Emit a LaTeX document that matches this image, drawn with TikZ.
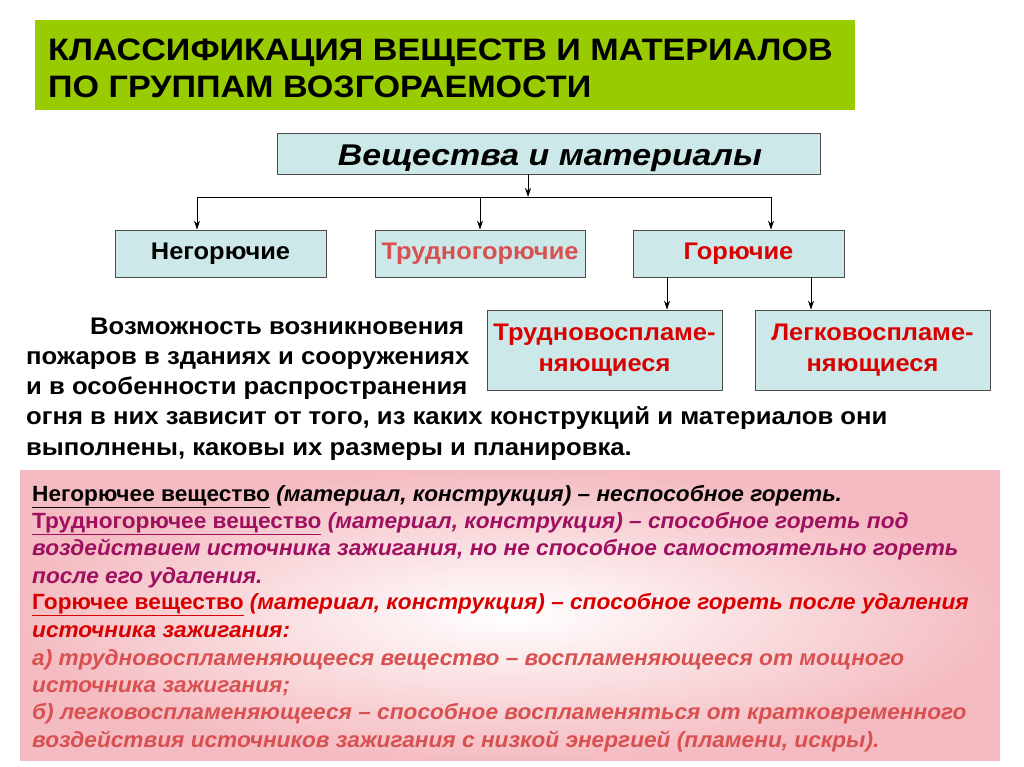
\documentclass[tikz,border=0pt]{standalone}
\usepackage{fontspec}
\setmainfont{Liberation Sans}
\usetikzlibrary{arrows.meta}
\definecolor{cbox}{HTML}{CCE8E8}
\definecolor{cgreen}{HTML}{99CC00}
\definecolor{cpurp}{HTML}{A01060}
\definecolor{cred}{HTML}{D80000}
\definecolor{clred}{HTML}{D85050}
\definecolor{cpink}{HTML}{F4BCC2}
\newcommand{\sxx}[2]{\scalebox{#1}[1]{#2}}
\tikzset{
 bx/.style={draw=black!70,fill=cbox,line width=0.8pt,inner sep=0pt,font=\fontsize{24}{28}\selectfont\bfseries,align=center},
 ar/.style={-{Stealth[length=9pt,width=6pt]},line width=0.8pt},
 ln/.style={anchor=base west,inner sep=0pt,font=\fontsize{24}{28}\selectfont\bfseries},
 bl/.style={anchor=base west,inner sep=0pt,font=\fontsize{22}{26}\selectfont\bfseries\itshape},
}
\begin{document}
\begin{tikzpicture}[x=1pt,y=-1pt]
\useasboundingbox[fill=white] (0,0) rectangle (1024,767);
\node[fill=cgreen,minimum width=820pt,minimum height=90pt,anchor=north west,inner sep=0pt] (title) at (35,20) {};
\node[anchor=base west,inner sep=0pt,font=\fontsize{31}{34}\selectfont\bfseries] (t1) at (48,61) {\sxx{1.1}{КЛАССИФИКАЦИЯ ВЕЩЕСТВ И МАТЕРИАЛОВ}};
\node[anchor=base west,inner sep=0pt,font=\fontsize{31}{34}\selectfont\bfseries] (t2) at (48,98) {\sxx{1.1}{ПО ГРУППАМ ВОЗГОРАЕМОСТИ}};

\node[bx,minimum width=543pt,minimum height=41pt] (top) at (548.5,153.5) {};
\node[anchor=base,inner sep=0pt,font=\fontsize{30}{32}\selectfont\bfseries\itshape] (toptext) at (550,166) {\sxx{1.13}{Вещества и материалы}};
\node[bx,minimum width=211pt,minimum height=47pt] (ng) at (220.5,253.5) {\raisebox{-4pt}{\sxx{1.06}{Негорючие}}};
\node[bx,minimum width=210pt,minimum height=47pt,text=clred] (tg) at (480,253.5) {\raisebox{-4pt}{\sxx{1.06}{Трудногорючие}}};
\node[bx,minimum width=211pt,minimum height=47pt,text=cred] (g) at (738.5,253.5) {\raisebox{-4pt}{\sxx{1.06}{Горючие}}};
\node[bx,minimum width=235pt,minimum height=80pt,text=cred,font=\fontsize{24}{31}\selectfont\bfseries] (tv) at (604.5,350) {\sxx{1.06}{Трудновоспламе-}\\\sxx{1.06}{няющиеся}};
\node[bx,minimum width=235pt,minimum height=80pt,text=cred,font=\fontsize{24}{31}\selectfont\bfseries] (lv) at (872.5,350) {\sxx{1.06}{Легковоспламе-}\\\sxx{1.06}{няющиеся}};

\coordinate (j) at (528,197);
\draw[ar] (top.south -| j) -- (j);
\draw[line width=0.8pt] (197,197) -- (771,197);
\draw[ar] (197,197) -- (ng.north -| 197,0);
\draw[ar] (480,197) -- (tg.north);
\draw[ar] (771,197) -- (g.north -| 771,0);
\draw[ar] (g.south -| 667,0) -- (tv.north -| 667,0);
\draw[ar] (g.south -| 811,0) -- (lv.north -| 811,0);

\node[ln] (p1) at (90,334) {\sxx{1.07}{Возможность возникновения}};
\node[ln] (p2) at (26,364) {\sxx{1.07}{пожаров в зданиях и сооружениях}};
\node[ln] (p3) at (26,394) {\sxx{1.07}{и в особенности распространения}};
\node[ln] (p4) at (26,424) {\sxx{1.07}{огня в них зависит от того, из каких конструкций и материалов они}};
\node[ln] (p5) at (26,455) {\sxx{1.07}{выполнены, каковы их размеры и планировка.}};

\shade[inner color=white,outer color=cpink] (20,470) rectangle (1000,760);
\node[bl] (b1) at (32,501) {\sxx{1.03}{\underline{\upshape Негорючее вещество} (материал, конструкция) – неспособное гореть.}};
\node[bl,text=cpurp] (b2) at (32,528) {\sxx{1.03}{\underline{\upshape Трудногорючее вещество} (материал, конструкция) – способное гореть под}};
\node[bl,text=cpurp] (b3) at (32,555) {\sxx{1.03}{воздействием источника зажигания, но не способное самостоятельно гореть}};
\node[bl,text=cpurp] (b4) at (32,583) {\sxx{1.03}{после его удаления.}};
\node[bl,text=cred] (b5) at (32,609) {\sxx{1.03}{\underline{\upshape Горючее вещество} (материал, конструкция) – способное гореть после удаления}};
\node[bl,text=cred] (b6) at (32,637) {\sxx{1.03}{источника зажигания:}};
\node[bl,text=clred] (b7) at (32,665) {\sxx{1.03}{а) трудновоспламеняющееся вещество – воспламеняющееся от мощного}};
\node[bl,text=clred] (b8) at (32,692) {\sxx{1.03}{источника зажигания;}};
\node[bl,text=clred] (b9) at (32,719) {\sxx{1.03}{б) легковоспламеняющееся – способное воспламеняться от кратковременного}};
\node[bl,text=clred] (b10) at (32,747) {\sxx{1.03}{воздействия источников зажигания с низкой энергией (пламени, искры).}};
\end{tikzpicture}
\end{document}
